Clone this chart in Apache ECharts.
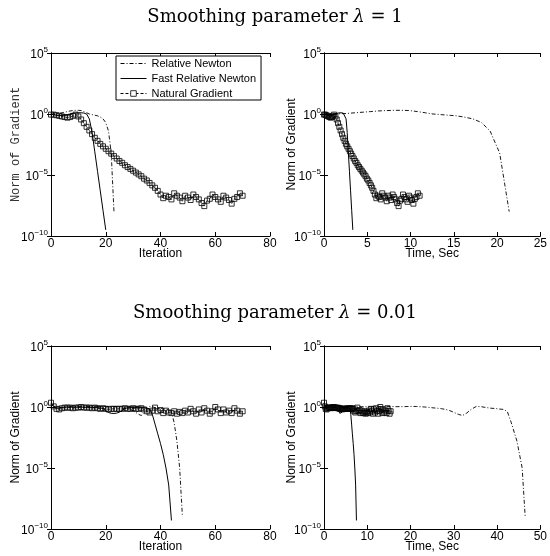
<!DOCTYPE html>
<html>
<head>
<meta charset="utf-8">
<script src="https://cdn.jsdelivr.net/npm/echarts@6/dist/echarts.min.js"></script>
<style>html,body{margin:0;padding:0;background:#fff;}#chart{width:550px;height:556px;}</style>
</head>
<body>
<div id="chart"></div>
<script>
// ---------- data (norm of gradient) ----------
const seriesNames = ['Relative Newton', 'Fast Relative Newton', 'Natural Gradient'];
const panelTitles = ['Smoothing parameter {i|λ} = 1', 'Smoothing parameter {i|λ} = 0.01'];
const yTickValues = [1e-10, 1e-5, 1, 1e5];
const xTicksIter = [0, 20, 40, 60, 80];

// lambda = 1 (values per iteration)
const rnL1 = [1.0, 1.0, 1.05, 1.12, 1.26, 1.41, 1.58, 1.78, 1.91, 2.0, 2.0, 1.91, 1.58, 1.26, 1.0, 0.891, 0.794, 0.708, 0.562, 0.398, 0.2, 3.98e-2, 6.31e-4, 1e-8];
const frnL1 = [1.0, 0.891, 0.794, 0.759, 0.759, 0.794, 0.891, 1.0, 1.12, 1.2, 1.26, 1.26, 1.2, 1.0, 0.398, 3.16e-2, 7.94e-4, 2.0e-5, 5.01e-7, 1.26e-8, 3.16e-10];
const ngL1 = [0.891, 0.891, 0.794, 0.708, 0.631, 0.562, 0.501, 0.562, 0.708, 0.891,
  0.631, 0.355, 0.178, 8.91e-2, 4.47e-2, 2.24e-2, 1.12e-2, 6.31e-3, 3.55e-3, 2.24e-3,
  1.41e-3, 8.91e-4, 5.62e-4, 3.55e-4, 2.24e-4, 1.41e-4, 1e-4, 6.31e-5, 4.47e-5, 3.16e-5,
  2.24e-5, 1.58e-5, 1.12e-5, 7.94e-6, 5.01e-6, 3.55e-6, 2.24e-6, 1.41e-6, 8.91e-7, 5.01e-7,
  2.51e-7, 1.26e-7, 2.0e-7, 1.58e-7, 1e-7, 3.16e-7, 2.0e-7, 1.41e-7, 7.08e-8, 2.0e-7,
  1.41e-7, 8.91e-8, 2.51e-7, 1.58e-7, 1e-7, 5.01e-8, 2.82e-8, 7.94e-8, 1.12e-7, 2.51e-7,
  1.58e-7, 1e-7, 6.31e-8, 2.0e-7, 1.41e-7, 8.91e-8, 4.47e-8, 1.12e-7, 1.58e-7, 3.16e-7,
  2.0e-7];
// lambda = 1, elapsed time (sec) of each iteration
const rnL1Time = [0, 0.9, 1.8, 2.7, 3.6, 4.5, 5.4, 6.3, 7.2, 8.1, 9.0, 9.9, 10.8, 11.7, 12.6, 13.5, 14.4, 15.3, 16.2, 17.2, 18.2, 19.2, 20.3, 21.4];
const frnL1Time = [0, 0.18, 0.37, 0.55, 0.74, 0.92, 1.11, 1.29, 1.48, 1.66, 1.85, 2.03, 2.22, 2.40, 2.55, 2.68, 2.81, 2.94, 3.07, 3.20, 3.33];
const ngL1Time = [0, 0.13, 0.26, 0.39, 0.52, 0.65, 0.78, 0.91, 1.04, 1.17,
  1.32, 1.47, 1.62, 1.77, 1.92, 2.08, 2.23, 2.38, 2.53, 2.68,
  2.84, 2.99, 3.14, 3.29, 3.44, 3.60, 3.75, 3.90, 4.05, 4.20,
  4.36, 4.51, 4.66, 4.81, 4.96, 5.12, 5.27, 5.42, 5.57, 5.72,
  5.88, 6.05, 6.22, 6.39, 6.56, 6.73, 6.90, 7.08, 7.25, 7.42,
  7.59, 7.76, 7.93, 8.10, 8.28, 8.45, 8.62, 8.79, 8.96, 9.13,
  9.30, 9.48, 9.65, 9.82, 9.99, 10.16, 10.33, 10.50, 10.68, 10.85,
  11.05];

// lambda = 0.01 (values per iteration)
const rnL2 = [1.58, 1.12, 1.0, 0.933, 0.891, 0.933, 1.0, 1.05, 1.07, 1.07,
  1.05, 1.05, 1.07, 1.10, 1.12, 1.12, 1.10, 1.07, 1.07, 1.07,
  1.10, 1.12, 1.10, 1.05, 1.0, 0.933, 0.851, 0.794, 0.724, 0.631,
  0.501, 0.355, 0.251, 0.2, 0.316, 0.631, 1.12, 1.05, 0.891, 0.794,
  0.759, 0.708, 0.661, 0.631, 0.398, 5.01e-2, 1.58e-3, 1e-5, 1e-9];
const frnL2 = [2.0, 1.12, 0.794, 0.794, 0.891, 1.0, 1.0, 1.0, 0.955, 0.955,
  1.0, 1.0, 0.955, 0.955, 0.933, 0.933, 0.891, 0.891, 0.832, 0.759,
  0.501, 0.355, 0.302, 0.295, 0.316, 0.380, 0.525, 0.759, 0.891, 0.891,
  0.891, 0.891, 0.891, 0.891, 0.891, 0.832, 0.708, 0.251, 3.98e-2, 6.31e-3,
  1e-3, 1.26e-4, 1e-5, 3.98e-7, 5.01e-10];
const ngL2 = [2.24, 1.12, 0.708, 0.631, 0.794, 0.891, 0.891, 0.891, 0.794, 0.891,
  0.891, 1.0, 0.891, 0.891, 0.891, 0.794, 0.891, 0.794, 0.708, 0.794,
  0.708, 0.631, 0.708, 0.708, 0.708, 0.708, 0.708, 0.794, 0.708, 0.708,
  0.794, 0.708, 0.708, 0.794, 0.631, 0.447, 0.355, 0.501, 0.891, 0.447,
  0.562, 0.316, 0.501, 0.355, 0.316, 0.447, 0.282, 0.398, 0.316, 0.501,
  0.355, 0.708, 0.447, 0.282, 0.631, 0.355, 0.794, 0.501, 0.282, 0.447,
  1.0, 0.631, 0.316, 0.631, 0.355, 0.501, 0.316, 0.794, 0.501, 0.282,
  0.447];
// lambda = 0.01, elapsed time (sec) of each iteration
const rnL2Time = [0, 0.97, 1.94, 2.91, 3.88, 4.85, 5.82, 6.79, 7.76, 8.73,
  9.70, 10.67, 11.64, 12.61, 13.58, 14.55, 15.52, 16.49, 17.46, 18.43,
  19.40, 20.37, 21.34, 22.31, 23.28, 24.25, 25.22, 26.19, 27.16, 28.13,
  29.10, 30.07, 31.04, 32.01, 32.98, 34.0, 35.2, 36.4, 37.6, 38.6,
  39.5, 40.2, 40.9, 41.6, 42.4, 43.3, 44.6, 45.8, 46.5];
const frnL2Time = [0, 0.17, 0.33, 0.50, 0.67, 0.83, 1.00, 1.17, 1.33, 1.50,
  1.67, 1.83, 2.00, 2.17, 2.33, 2.50, 2.67, 2.83, 3.00, 3.17,
  3.33, 3.50, 3.67, 3.83, 4.00, 4.17, 4.33, 4.50, 4.67, 4.83,
  5.00, 5.17, 5.33, 5.50, 5.67, 5.83, 6.00, 6.19, 6.38, 6.56,
  6.75, 6.94, 7.12, 7.31, 7.50];
const ngL2Time = [0, 0.20, 0.40, 0.60, 0.80, 1.00, 1.20, 1.40, 1.60, 1.80,
  2.00, 2.20, 2.40, 2.60, 2.80, 3.00, 3.20, 3.40, 3.60, 3.80,
  4.00, 4.20, 4.40, 4.60, 4.80, 5.00, 5.20, 5.40, 5.60, 5.80,
  6.00, 6.20, 6.40, 6.60, 6.80, 7.00, 7.24, 7.48, 7.72, 7.96,
  8.20, 8.44, 8.68, 8.92, 9.16, 9.40, 9.64, 9.88, 10.12, 10.36,
  10.60, 10.84, 11.08, 11.32, 11.56, 11.80, 12.04, 12.28, 12.52, 12.76,
  13.00, 13.24, 13.48, 13.72, 13.96, 14.20, 14.44, 14.68, 14.92, 15.16,
  15.40];

// ---------- chart ----------
const chart = echarts.init(document.getElementById('chart'), null, {renderer: 'canvas'});
const SANS = 'Liberation Sans, Arial, Helvetica, sans-serif';

const grids = [
  {left: 51, top: 53, width: 219, height: 183},
  {left: 324, top: 53, width: 220, height: 183},
  {left: 51, top: 346, width: 219, height: 183},
  {left: 324, top: 346, width: 220, height: 183}
];
const xRanges = [[0, 80, 20, 'Iteration'], [0, 25, 5, 'Time, Sec'], [0, 80, 20, 'Iteration'], [0, 50, 10, 'Time, Sec']];
const yNameGaps = [29, 26, 29, 26];

const lineBlack = {show: true, lineStyle: {color: '#000', width: 1}};
const tickIn = {show: true, inside: true, length: 4, lineStyle: {color: '#000', width: 1}};

const xAxes = [];
const yAxes = [];
for (let g = 0; g < 4; g++) {
  const r = xRanges[g];
  xAxes.push({
    type: 'value', gridIndex: g, min: r[0], max: r[1], interval: r[2], position: 'bottom',
    axisLine: lineBlack, axisTick: tickIn, splitLine: {show: false},
    axisLabel: {color: '#000', fontSize: 12, fontFamily: SANS, margin: 2},
    name: r[3], nameLocation: 'middle', nameGap: 12, nameMoveOverlap: false,
    nameTextStyle: {color: '#000', fontSize: 12, fontFamily: SANS, verticalAlign: 'top'}
  });
  yAxes.push({
    type: 'log', logBase: 10, gridIndex: g, min: 1e-10, max: 1e5, interval: 5, position: 'left',
    axisLine: lineBlack, axisTick: tickIn, splitLine: {show: false}, minorTick: {show: false},
    axisLabel: {
      color: '#000', margin: 3,
      formatter: function (v) {
        const e = Math.round(Math.log10(v));
        return '{b|10}{s|' + (e < 0 ? '\u2212' + (-e) : e) + '}';
      },
      rich: {
        b: {fontSize: 12, fontFamily: SANS, color: '#000', verticalAlign: 'bottom'},
        s: {fontSize: 8, fontFamily: SANS, color: '#000', verticalAlign: 'top', padding: [0, 0, 7, 0]}
      }
    },
    name: 'Norm of Gradient', nameLocation: 'middle', nameGap: yNameGaps[g], nameMoveOverlap: false,
    nameTextStyle: g === 0
      ? {color: '#333', fontSize: 12, fontFamily: 'Liberation Mono, Courier New, monospace'}
      : {color: '#000', fontSize: 12, fontFamily: SANS}
  });
}
// mirror axes (top / right) for the box ticks
for (let g = 0; g < 4; g++) {
  const r = xRanges[g];
  xAxes.push({
    type: 'value', gridIndex: g, min: r[0], max: r[1], interval: r[2], position: 'top',
    axisLine: lineBlack, axisTick: tickIn, axisLabel: {show: false}, splitLine: {show: false}
  });
  yAxes.push({
    type: 'log', logBase: 10, gridIndex: g, min: 1e-10, max: 1e5, interval: 5, position: 'right',
    axisLine: lineBlack, axisTick: tickIn, axisLabel: {show: false}, splitLine: {show: false}, minorTick: {show: false}
  });
}

function iterPairs(vals) { return vals.map(function (v, i) { return [i, v]; }); }
function timePairs(times, vals) { return vals.map(function (v, i) { return [times[i], v]; }); }

const styleRN = {type: 'line', symbol: 'none', lineStyle: {color: '#000', width: 0.9, type: [4, 2, 1, 2]}, itemStyle: {color: '#000'}, z: 3};
const styleFRN = {type: 'line', symbol: 'none', lineStyle: {color: '#000', width: 1, type: 'solid'}, itemStyle: {color: '#000'}, z: 4};
const styleNG = {type: 'line', symbol: 'rect', symbolSize: 5, showAllSymbol: true,
  lineStyle: {color: '#000', width: 0.8, type: [3, 2]},
  itemStyle: {color: 'rgba(255,255,255,0)', borderColor: '#000', borderWidth: 0.8}, z: 2};

const panelData = [
  [iterPairs(rnL1), iterPairs(frnL1), iterPairs(ngL1)],
  [timePairs(rnL1Time, rnL1), timePairs(frnL1Time, frnL1), timePairs(ngL1Time, ngL1)],
  [iterPairs(rnL2), iterPairs(frnL2), iterPairs(ngL2)],
  [timePairs(rnL2Time, rnL2), timePairs(frnL2Time, frnL2), timePairs(ngL2Time, ngL2)]
];
const styles = [styleRN, styleFRN, styleNG];
const series = [];
for (let g = 0; g < 4; g++) {
  for (let s = 0; s < 3; s++) {
    series.push(Object.assign({}, styles[s], {
      name: seriesNames[s], xAxisIndex: g, yAxisIndex: g, data: panelData[g][s],
      animation: false, emphasis: {disabled: true}
    }));
  }
}

const titleStyle = {
  color: '#000', fontSize: 18, fontFamily: 'DejaVu Serif, Liberation Serif, serif', fontWeight: 'normal',
  rich: {i: {fontSize: 18, fontFamily: 'DejaVu Serif, Liberation Serif, serif', fontStyle: 'italic', color: '#000'}}
};

const hiddenMark = {color: 'rgba(0,0,0,0)', borderColor: 'rgba(0,0,0,0)', borderWidth: 0, opacity: 0};

chart.setOption({
  animation: false,
  backgroundColor: '#fff',
  title: [
    {text: panelTitles[0], left: 'center', top: 3, textStyle: titleStyle},
    {text: panelTitles[1], left: 'center', top: 299, textStyle: titleStyle}
  ],
  legend: {
    left: 116, top: 56, orient: 'vertical',
    data: [
      {name: seriesNames[0], itemStyle: hiddenMark},
      {name: seriesNames[1], itemStyle: hiddenMark},
      {name: seriesNames[2], itemStyle: {color: '#fff', borderColor: '#000', borderWidth: 0.8}}
    ],
    itemWidth: 26, itemHeight: 7, itemGap: 4, padding: [2, 5, 1, 4],
    lineStyle: {width: 1},
    borderColor: '#000', borderWidth: 1, borderRadius: 0, backgroundColor: '#fff',
    textStyle: {color: '#000', fontSize: 11, fontFamily: SANS},
    selectedMode: false
  },
  grid: grids.map(function (g) { return Object.assign({containLabel: false}, g); }),
  xAxis: xAxes,
  yAxis: yAxes,
  series: series
});
</script>
</body>
</html>
